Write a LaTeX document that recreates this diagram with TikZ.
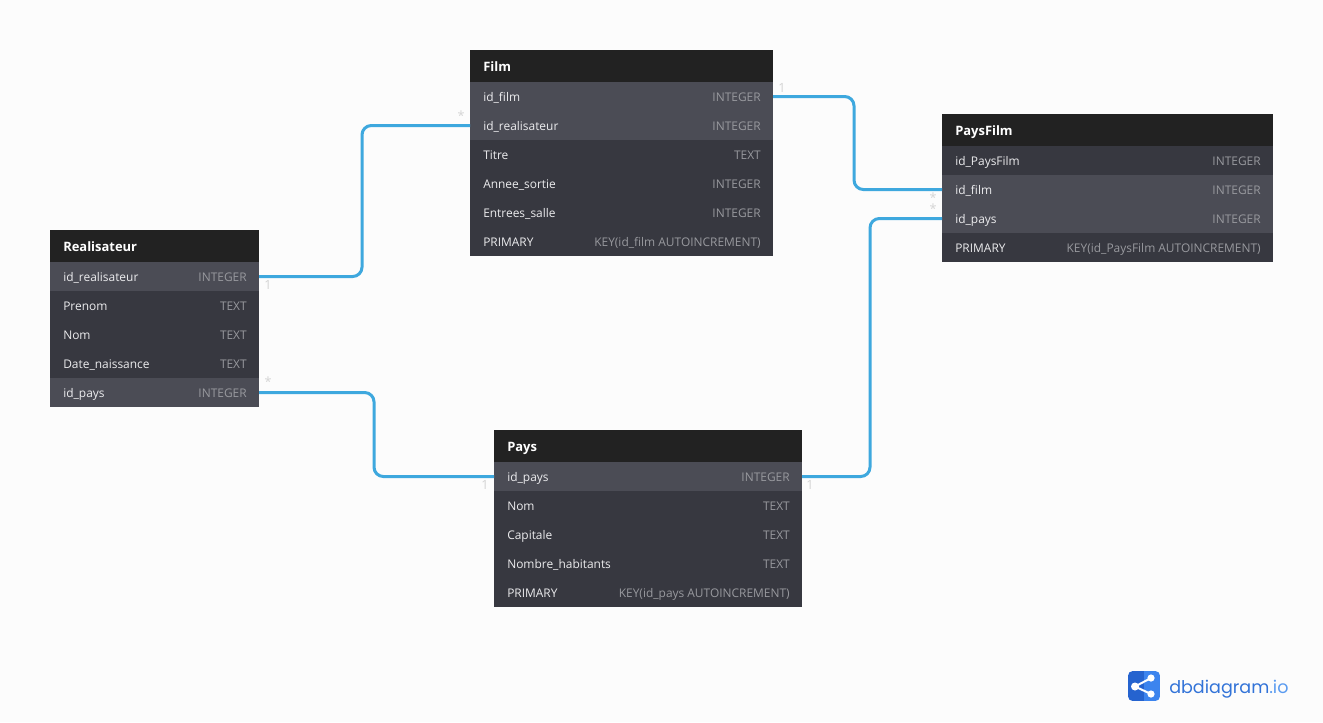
\documentclass[tikz,border=0pt]{standalone}
\usepackage{fontspec}
\setmainfont{Open Sans}
\newfontfamily\logofont{Poppins}
\definecolor{pagebg}{HTML}{FCFCFC}
\definecolor{headbg}{HTML}{222222}
\definecolor{rowbg}{HTML}{373840}
\definecolor{rowhl}{HTML}{4B4C55}
\definecolor{nametxt}{HTML}{ECECEE}
\definecolor{typetxt}{HTML}{98999E}
\definecolor{linkblue}{HTML}{3EA8DE}
\definecolor{marktxt}{HTML}{D4D4D4}
\definecolor{logodark}{HTML}{2563CF}
\definecolor{logolight}{HTML}{3C84EE}
\definecolor{logotxt}{HTML}{3273D8}
\definecolor{logotxtb}{HTML}{5A9BF0}
\tikzset{
  headcell/.style={draw=none,fill=headbg,inner sep=0pt,outer sep=0pt,anchor=north west,minimum height=24pt},
  rowcell/.style={draw=none,fill=rowbg,inner sep=0pt,outer sep=0pt,anchor=north west,minimum height=21.75pt},
  hlcell/.style={rowcell,fill=rowhl},
  titletxt/.style={inner sep=0pt,anchor=base west,text=white,font=\fontsize{9.7}{12}\selectfont\bfseries},
  nametext/.style={inner sep=0pt,anchor=base west,text=nametxt,font=\fontsize{8.95}{12}\selectfont},
  typetext/.style={inner sep=0pt,anchor=base east,text=typetxt,font=\fontsize{8.95}{12}\selectfont},
  link/.style={draw=linkblue,line width=2.25pt,rounded corners=7pt},
  mark1/.style={inner sep=0pt,text=marktxt,font=\fontsize{9.5}{11}\selectfont},
}
% table header: id, title, left, top, width in px
\newcommand{\dbhead}[5]{%
  \node[headcell,minimum width=#5*0.75pt] (#1) at (#3,#4) {};
  \node[titletxt] (#1-title) at ([shift={(13,5.2)}]#1.west) {#2};
}
% table row: id, previous cell, style, name text, type text
\newcommand{\dbrow}[5]{%
  \path (#2.south west) node[#3,minimum width=\pgfkeysvalueof{/dbt/w}*0.75pt] (#1) {};
  \node[nametext] (#1-name) at ([shift={(13,4.5)}]#1.west) {#4};
  \node[typetext] (#1-type) at ([shift={(-12,4.5)}]#1.east) {#5};
}
\pgfkeyssetvalue{/dbt/w}{0}
\begin{document}
\begin{tikzpicture}[x=0.75pt,y=-0.75pt]
\useasboundingbox (0,0) rectangle (1323,722);
\fill[pagebg] (0,0) rectangle (1323,722);

% Film
\pgfkeyssetvalue{/dbt/w}{303}
\dbhead{film}{Film}{470}{50}{303}
\dbrow{film1}{film}{hlcell}{id\_film}{INTEGER}
\dbrow{film2}{film1}{hlcell}{id\_realisateur}{INTEGER}
\dbrow{film3}{film2}{rowcell}{Titre}{TEXT}
\dbrow{film4}{film3}{rowcell}{Annee\_sortie}{INTEGER}
\dbrow{film5}{film4}{rowcell}{Entrees\_salle}{INTEGER}
\dbrow{film6}{film5}{rowcell}{PRIMARY}{KEY(id\_film AUTOINCREMENT)}

% PaysFilm
\pgfkeyssetvalue{/dbt/w}{331}
\dbhead{pf}{PaysFilm}{942}{114}{331}
\dbrow{pf1}{pf}{rowcell}{id\_PaysFilm}{INTEGER}
\dbrow{pf2}{pf1}{hlcell}{id\_film}{INTEGER}
\dbrow{pf3}{pf2}{hlcell}{id\_pays}{INTEGER}
\dbrow{pf4}{pf3}{rowcell}{PRIMARY}{KEY(id\_PaysFilm AUTOINCREMENT)}

% Realisateur
\pgfkeyssetvalue{/dbt/w}{209}
\dbhead{real}{Realisateur}{50}{230}{209}
\dbrow{real1}{real}{hlcell}{id\_realisateur}{INTEGER}
\dbrow{real2}{real1}{rowcell}{Prenom}{TEXT}
\dbrow{real3}{real2}{rowcell}{Nom}{TEXT}
\dbrow{real4}{real3}{rowcell}{Date\_naissance}{TEXT}
\dbrow{real5}{real4}{hlcell}{id\_pays}{INTEGER}

% Pays
\pgfkeyssetvalue{/dbt/w}{308}
\dbhead{pays}{Pays}{494}{430}{308}
\dbrow{pays1}{pays}{hlcell}{id\_pays}{INTEGER}
\dbrow{pays2}{pays1}{rowcell}{Nom}{TEXT}
\dbrow{pays3}{pays2}{rowcell}{Capitale}{TEXT}
\dbrow{pays4}{pays3}{rowcell}{Nombre\_habitants}{TEXT}
\dbrow{pays5}{pays4}{rowcell}{PRIMARY}{KEY(id\_pays AUTOINCREMENT)}

% Relationship routes: each bend column is a named coordinate
\coordinate (busA) at (362,200);
\coordinate (busB) at (374,430);
\coordinate (busC) at (854,140);
\coordinate (busD) at (870,350);
\draw[link] (real1.east) -- (real1.east -| busA) -- (film2.west -| busA) -- (film2.west);
\draw[link] (real5.east) -- (real5.east -| busB) -- (pays1.west -| busB) -- (pays1.west);
\draw[link] (film1.east) -- (film1.east -| busC) -- (pf2.west -| busC) -- (pf2.west);
\draw[link] (pays1.east) -- (pays1.east -| busD) -- (pf3.west -| busD) -- (pf3.west);

% Cardinality marks
\node[mark1] (m1) at (268,285) {1};
\node[mark1] (m2) at (461,116) {*};
\node[mark1] (m3) at (782,88) {1};
\node[mark1] (m4) at (933,198) {*};
\node[mark1] (m5) at (933,209) {*};
\node[mark1] (m6) at (268,382) {*};
\node[mark1] (m7) at (485,485) {1};
\node[mark1] (m8) at (810,485) {1};

% Logo badge and wordmark
\begin{scope}
  \clip[rounded corners=3.5pt] (1128,671) rectangle (1160,701);
  \fill[logodark] (1128,671) rectangle (1144,701);
  \fill[logolight] (1144,671) rectangle (1160,701);
\end{scope}
\draw[white,line width=1.5pt] (1151,678) -- (1135,686.5) -- (1151,694);
\fill[white] (1135,686.5) circle (4) (1151,678) circle (3.6) (1151,694) circle (3.6);
\node[inner sep=0pt,anchor=base west,text=logotxt,font=\logofont\fontsize{13.15}{18}\selectfont] (brand) at (1169,693) {dbdiagram\textcolor{logotxtb}{.io}};
\end{tikzpicture}
\end{document}
